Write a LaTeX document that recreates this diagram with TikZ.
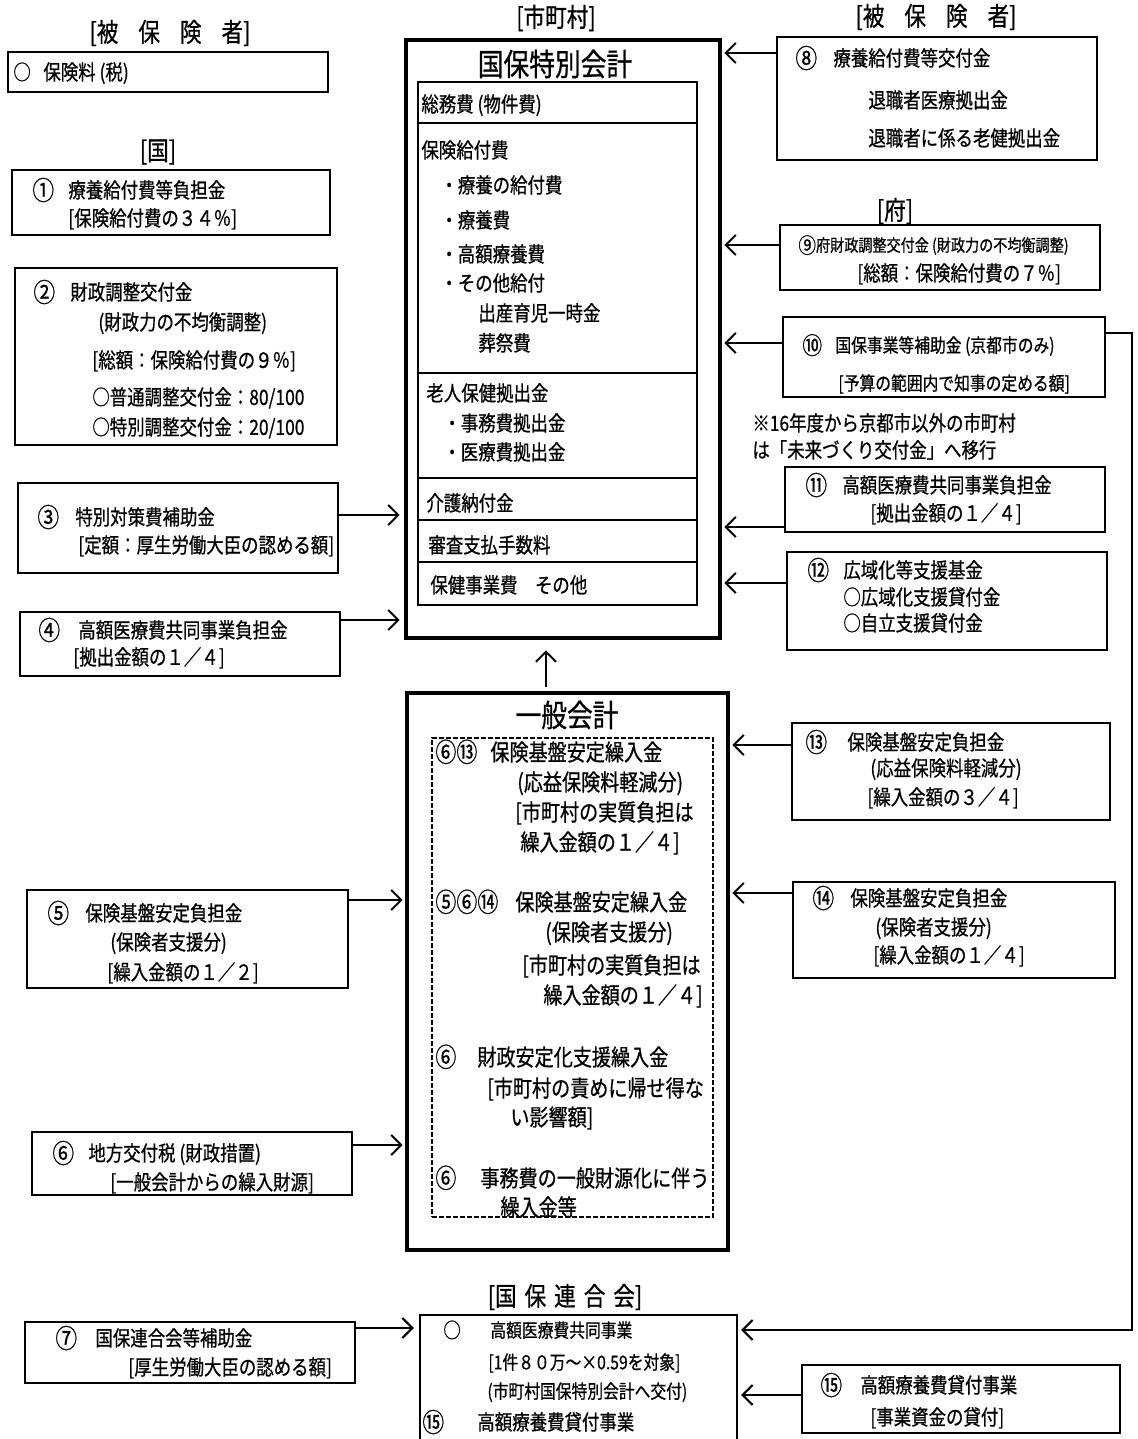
\documentclass[tikz,border=0pt]{standalone}
\usepackage{graphicx}
\usepackage{fontspec}
\setmainfont{Noto Sans CJK JP}[FakeStretch=0.83,FakeBold=0.7]
\usetikzlibrary{arrows.meta,fit}
\newcounter{tc}
\newcommand\fA{\fontsize{10.5}{12}\selectfont}
\newcommand\fB{\fontsize{9.5}{11}\selectfont}
\newcommand\fC{\fontsize{11.5}{13}\selectfont}
\newcommand\fD{\fontsize{8.5}{10}\selectfont}
\newcommand\fH{\fontsize{13}{15}\selectfont}
\newcommand\fT{\fontsize{15.5}{18}\selectfont}
\newcommand\cn[1]{\raisebox{-0.1em}{\scalebox{1.25}{#1}}}
\newcommand\cns[1]{\raisebox{-0.05em}{\scalebox{1.1}[1.15]{#1}}}
\newcommand\tx[4][]{\stepcounter{tc}\node[txt,#1] (t\arabic{tc}) at (#2,#3) {#4};}
\newcommand\bx[6][]{\node[boxthin,#1,fit={(#3,#4) (#5,#6)}] (#2) {};}
\tikzset{
 boxthin/.style={draw, line width=1.2pt, inner sep=0pt},
 boxthick/.style={draw, line width=2.4pt, inner sep=0pt},
 rowbox/.style={draw, line width=1pt, inner sep=0pt},
 dashbox/.style={draw, line width=1.1pt, dash pattern=on 2.5pt off 1pt, inner sep=0pt},
 arr/.style={line width=1pt, -{Straight Barb[length=5pt,width=10pt,line width=1pt]}},
 txt/.style={anchor=west, inner sep=0pt, font=\fA, text height=9.2pt, text depth=1.3pt},
 sB/.style={font=\fB, text height=8.4pt, text depth=1.1pt},
 sC/.style={font=\fC, text height=10.1pt, text depth=1.4pt},
 sD/.style={font=\fD, text height=7.5pt, text depth=1pt},
 hdr/.style={anchor=center, inner sep=0pt, font=\fH},
 ttl/.style={anchor=center, inner sep=0pt, font=\fT},
}
\begin{document}
\begin{tikzpicture}[x=0.5pt,y=-0.5pt]
\fill[white] (0,0) rectangle (1137,1439);
\useasboundingbox (0,0) rectangle (1137,1439);

% ---------------- left column ----------------
\node[hdr] (h1) at (170,33) {[被\hspace{10pt}保\hspace{10pt}険\hspace{10pt}者]};
\bx{b0}{8}{52}{328}{92}
\tx{13}{72}{○}
\tx{43}{72}{保険料 (税)}

\node[hdr] (h2) at (158,152) {[国]};
\bx{b1}{12}{170}{330}{235}
\tx{32}{190}{\cn{①}}
\tx{68}{190}{療養給付費等負担金}
\tx{68}{218}{[保険給付費の３４％]}

\bx{b2}{15}{268}{337}{445}
\tx{33}{292}{\cn{②}}
\tx{70}{292}{財政調整交付金}
\tx{98}{322}{(財政力の不均衡調整)}
\tx{92}{360}{[総額：保険給付費の９％]}
\tx{92}{397}{○普通調整交付金：80/100}
\tx{92}{427}{○特別調整交付金：20/100}

\bx{b3}{18}{483}{338}{573}
\tx{37}{517}{\cn{③}}
\tx{75}{517}{特別対策費補助金}
\tx{78}{545}{[定額：厚生労働大臣の認める額]}

\bx{b4}{20}{612}{340}{676}
\tx{38}{630}{\cn{④}}
\tx{78}{630}{高額医療費共同事業負担金}
\tx{73}{657}{[拠出金額の１／４]}

\bx{b5}{27}{890}{348}{988}
\tx{47}{913}{\cn{⑤}}
\tx{85}{913}{保険基盤安定負担金}
\tx{110}{942}{(保険者支援分)}
\tx{107}{972}{[繰入金額の１／２]}

\bx{b6}{32}{1132}{352}{1195}
\tx{52}{1153}{\cn{⑥}}
\tx{88}{1153}{地方交付税 (財政措置)}
\tx{110}{1182}{[一般会計からの繰入財源]}

\bx{b7}{25}{1322}{355}{1383}
\tx{55}{1338}{\cn{⑦}}
\tx{95}{1338}{国保連合会等補助金}
\tx{128}{1367}{[厚生労働大臣の認める額]}

% ---------------- centre: 国保特別会計 ----------------
\node[hdr] (h3) at (556,18) {[市町村]};
\bx[boxthick]{K}{406}{40}{720}{638}
\node[ttl] (kt) at (555,64) {国保特別会計};
\bx[rowbox]{r1}{418}{82}{697}{123}
\bx[rowbox]{r2}{418}{123}{697}{373}
\bx[rowbox]{r3}{418}{373}{697}{478}
\bx[rowbox]{r4}{418}{478}{697}{520}
\bx[rowbox]{r5}{418}{520}{697}{562}
\bx[rowbox]{r6}{418}{562}{697}{605}
\tx{421}{104}{総務費 (物件費)}
\tx{421}{150}{保険給付費}
\tx{440}{185}{・療養の給付費}
\tx{440}{220}{・療養費}
\tx{440}{254}{・高額療養費}
\tx{440}{283}{・その他給付}
\tx{478}{313}{出産育児一時金}
\tx{478}{343}{葬祭費}
\tx{426}{393}{老人保健拠出金}
\tx{443}{423}{・事務費拠出金}
\tx{443}{452}{・医療費拠出金}
\tx{426}{503}{介護納付金}
\tx{428}{545}{審査支払手数料}
\tx{430}{585}{保健事業費　その他}

% ---------------- centre: 一般会計 ----------------
\bx[boxthick]{G}{407}{693}{728}{1250}
\node[ttl] (gt) at (567,715) {一般会計};
\bx[dashbox]{D}{432}{738}{713}{1217}
\tx[sC]{435}{752}{\cns{⑥⑬}}
\tx[sC]{490}{752}{保険基盤安定繰入金}
\tx[sC]{517}{782}{(応益保険料軽減分)}
\tx[sC]{515}{812}{[市町村の実質負担は}
\tx[sC]{520}{842}{繰入金額の１／４]}
\tx[sC]{435}{902}{\cns{⑤⑥⑭}}
\tx[sC]{515}{902}{保険基盤安定繰入金}
\tx[sC]{545}{932}{(保険者支援分)}
\tx[sC]{522}{965}{[市町村の実質負担は}
\tx[sC]{543}{995}{繰入金額の１／４]}
\tx[sC]{435}{1057}{\cns{⑥}}
\tx[sC]{477}{1057}{財政安定化支援繰入金}
\tx[sC]{487}{1088}{[市町村の責めに帰せ得な}
\tx[sC]{510}{1117}{い影響額]}
\tx[sC]{435}{1178}{\cns{⑥}}
\tx[sC]{480}{1178}{事務費の一般財源化に伴う}
\tx[sC]{500}{1207}{繰入金等}

% ---------------- bottom: 国保連合会 ----------------
\node[hdr] (h4) at (565,1297) {[国\hspace{4pt}保\hspace{4pt}連\hspace{4pt}合\hspace{4pt}会]};
\bx{N}{420}{1315}{737}{1460}
\tx{443}{1330}{○}
\tx[sB]{490}{1330}{高額医療費共同事業}
\tx[sB]{488}{1362}{[1件８０万～×0.59を対象]}
\tx[sB]{487}{1391}{(市町村国保特別会計へ交付)}
\tx{422}{1422}{\cn{⑮}}
\tx{477}{1422}{高額療養費貸付事業}

% ---------------- right column ----------------
\node[hdr] (h5) at (936,17) {[被\hspace{10pt}保\hspace{10pt}険\hspace{10pt}者]};
\bx{b8}{777}{37}{1097}{160}
\tx{795}{58}{\cn{⑧}}
\tx{833}{58}{療養給付費等交付金}
\tx{868}{100}{退職者医療拠出金}
\tx{868}{138}{退職者に係る老健拠出金}

\node[hdr] (h6) at (895,211) {[府]};
\bx{b9}{780}{225}{1100}{290}
\tx[sD]{798}{245}{\cn{⑨}府財政調整交付金 (財政力の不均衡調整)}
\tx{857}{273}{[総額：保険給付費の７％]}

\bx{b10}{783}{317}{1105}{397}
\tx[sB]{802}{345}{\cn{⑩}}
\tx[sB]{835}{345}{国保事業等補助金 (京都市のみ)}
\tx[sB]{838}{383}{[予算の範囲内で知事の定める額]}

\tx{752}{423}{※16年度から京都市以外の市町村}
\tx{752}{450}{は「未来づくり交付金」へ移行}

\bx{b11}{785}{467}{1105}{532}
\tx{805}{485}{\cn{⑪}}
\tx{842}{485}{高額医療費共同事業負担金}
\tx{870}{513}{[拠出金額の１／４]}

\bx{b12}{787}{552}{1107}{650}
\tx{807}{570}{\cn{⑫}}
\tx{843}{570}{広域化等支援基金}
\tx{843}{597}{○広域化支援貸付金}
\tx{843}{623}{○自立支援貸付金}

\bx{b13}{792}{723}{1110}{820}
\tx{805}{742}{\cn{⑬}}
\tx{847}{742}{保険基盤安定負担金}
\tx{870}{768}{(応益保険料軽減分)}
\tx{867}{797}{[繰入金額の３／４]}

\bx{b14}{793}{882}{1115}{978}
\tx{812}{898}{\cn{⑭}}
\tx{850}{898}{保険基盤安定負担金}
\tx{875}{927}{(保険者支援分)}
\tx{873}{955}{[繰入金額の１／４]}

\bx{b15}{802}{1365}{1120}{1433}
\tx{820}{1385}{\cn{⑮}}
\tx{860}{1385}{高額療養費貸付事業}
\tx{870}{1417}{[事業資金の貸付]}

% ---------------- connectors ----------------
\draw[arr,shorten >=2pt] (b3.east |- 0,515) -- (K.west |- 0,515);
\draw[arr,shorten >=2pt] (b4.east |- 0,620) -- (K.west |- 0,620);
\draw[arr,shorten >=1pt] (b5.east |- 0,900) -- (G.west |- 0,900);
\draw[arr,shorten >=1pt] (b6.east |- 0,1145) -- (G.west |- 0,1145);
\draw[arr,shorten >=2.5pt] (b7.east |- 0,1328) -- (N.west |- 0,1328);
\draw[arr,shorten >=5pt,shorten <=2pt] (G.north -| 546,0) -- (K.south -| 546,0);
\draw[arr,shorten >=1pt] (b8.west |- 0,53) -- (K.east |- 0,53);
\draw[arr,shorten >=1pt] (b9.west |- 0,245) -- (K.east |- 0,245);
\draw[arr,shorten >=1pt] (b10.west |- 0,343) -- (K.east |- 0,343);
\draw[arr,shorten >=1pt] (b11.west |- 0,527) -- (K.east |- 0,527);
\draw[arr,shorten >=1pt] (b12.west |- 0,583) -- (K.east |- 0,583);
\draw[arr,shorten >=1pt] (b13.west |- 0,745) -- (G.east |- 0,745);
\draw[arr,shorten >=1pt] (b14.west |- 0,893) -- (G.east |- 0,893);
\draw[arr,shorten >=1.5pt] (b15.west |- 0,1395) -- (N.east |- 0,1395);
\coordinate (rt) at (1132,333);
\coordinate (rb) at (1132,1330);
\draw[arr,shorten >=1.5pt] (b10.east |- rt) -- (rt) -- (rb) -- (N.east |- rb);
\end{tikzpicture}
\end{document}
